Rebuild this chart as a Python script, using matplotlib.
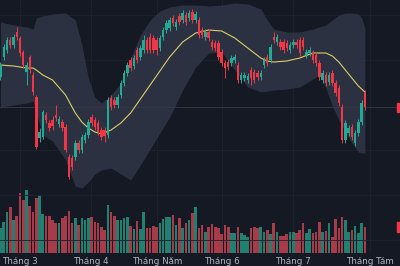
import matplotlib
matplotlib.use('Agg')
import matplotlib.pyplot as plt
import matplotlib.transforms as mtransforms
import numpy as np

# Nến ngày (giá tuỳ ý, không có trục giá trong ảnh)
open_ = [223, 243, 250, 260, 255, 268, 262, 248, 228, 243,
         225, 203, 162, 163, 185, 177, 180, 185, 176, 178,
         173, 143, 142, 143, 157, 150, 160, 165, 183, 180,
         177, 170, 170, 165, 202, 200, 195, 205, 217, 227,
         240, 234, 250, 243, 250, 260, 263, 262, 260, 252,
         263, 270, 272, 282, 273, 284, 280, 285, 282, 288,
         280, 280, 270, 263, 268, 258, 257, 257, 248, 237,
         238, 237, 240, 235, 220, 222, 220, 230, 228, 227,
         223, 235, 243, 240, 263, 258, 258, 258, 257, 250,
         255, 258, 260, 260, 245, 247, 247, 245, 237, 220,
         225, 218, 227, 217, 212, 193, 160, 167, 173, 157,
         167, 178, 207]
close = [235, 253, 260, 255, 263, 263, 247, 235, 235, 230,
         208, 153, 168, 188, 180, 172, 174, 182, 181, 172,
         150, 123, 133, 157, 150, 163, 165, 178, 177, 173,
         168, 163, 164, 200, 193, 195, 203, 217, 227, 235,
         232, 242, 240, 252, 260, 250, 250, 250, 250, 262,
         270, 277, 280, 277, 278, 278, 287, 278, 287, 280,
         286, 265, 265, 268, 262, 253, 252, 243, 237, 232,
         233, 242, 243, 220, 225, 225, 224, 222, 220, 223,
         227, 240, 237, 253, 260, 263, 253, 250, 252, 255,
         258, 255, 247, 253, 248, 250, 240, 237, 223, 227,
         217, 225, 217, 207, 197, 160, 177, 172, 163, 167,
         178, 197, 193]
high = [238, 256, 263, 263, 266, 273, 264, 250, 238, 245,
        228, 205, 172, 190, 188, 180, 184, 195, 184, 181,
        176, 146, 145, 160, 160, 166, 168, 181, 186, 183,
        180, 173, 173, 203, 205, 203, 206, 220, 230, 238,
        243, 245, 253, 255, 265, 263, 267, 265, 263, 265,
        273, 280, 283, 285, 281, 287, 290, 288, 290, 291,
        289, 283, 273, 271, 271, 261, 260, 260, 251, 240,
        241, 245, 246, 238, 228, 228, 227, 233, 231, 230,
        230, 243, 246, 256, 268, 266, 261, 261, 260, 258,
        261, 261, 263, 263, 251, 253, 250, 248, 240, 230,
        228, 228, 230, 220, 215, 196, 180, 175, 176, 170,
        181, 200, 210]
low = [220, 240, 247, 252, 252, 260, 244, 232, 215, 227,
       205, 151, 158, 161, 177, 169, 170, 179, 173, 169,
       148, 121, 130, 140, 147, 147, 157, 162, 174, 170,
       165, 160, 158, 162, 190, 192, 192, 202, 214, 224,
       229, 231, 237, 240, 247, 247, 247, 247, 245, 249,
       260, 267, 269, 274, 270, 275, 277, 275, 279, 277,
       277, 262, 262, 260, 259, 250, 249, 240, 234, 222,
       230, 234, 237, 217, 217, 219, 217, 215, 217, 220,
       220, 232, 234, 237, 257, 255, 250, 247, 249, 247,
       252, 252, 244, 250, 242, 244, 237, 234, 220, 217,
       214, 215, 214, 204, 194, 157, 157, 164, 160, 154,
       164, 175, 190]
volume = [25, 31, 41, 46, 33, 37, 60, 53, 63, 47,
          41, 55, 58, 39, 37, 37, 33, 30, 30, 35,
          37, 42, 30, 35, 28, 35, 33, 35, 36, 31,
          30, 26, 23, 48, 41, 37, 33, 33, 35, 36,
          27, 24, 32, 24, 41, 25, 25, 27, 26, 30,
          34, 36, 36, 38, 28, 35, 25, 30, 33, 40,
          46, 25, 28, 21, 26, 29, 26, 25, 19, 28,
          26, 20, 20, 26, 20, 18, 16, 25, 26, 25,
          26, 21, 23, 19, 30, 21, 17, 17, 19, 21,
          21, 20, 23, 30, 20, 24, 20, 21, 31, 21,
          22, 30, 16, 34, 25, 36, 33, 21, 23, 27,
          20, 30, 26]

# Dải Bollinger (theo chỉ số nến)
band_idx = [0, 4, 8, 10, 11, 13, 16, 20, 23, 25, 27, 29, 31, 34, 37, 40, 43, 46, 49, 52,
            56, 60, 64, 68, 72, 76, 80, 82, 84, 88, 92, 96, 98, 100, 102, 104, 106, 108,
            110, 111, 112]
band_upper = [278, 275, 273, 271, 282, 284, 286, 287, 280, 255, 222, 203, 197, 205, 217,
              242, 265, 280, 289, 293, 295, 295, 294, 295, 297, 296, 291, 280, 271, 268,
              268, 271, 273, 275, 280, 285, 287, 287, 286, 282, 272]
band_mid = [235, 234, 232, 232, 230, 225, 220, 205, 187, 178, 172, 168, 166, 170, 177,
            187, 201, 215, 229, 243, 258, 267, 270, 269, 262, 252, 242, 239, 238, 239,
            242, 247, 247, 247, 244, 238, 230, 222, 214, 211, 208]
band_lower = [193, 195, 197, 199, 188, 165, 159, 140, 114, 112, 118, 126, 130, 132, 126,
              120, 135, 151, 167, 183, 210, 233, 247, 248, 230, 213, 208, 209, 210, 211,
              213, 221, 225, 212, 194, 180, 168, 157, 148, 147, 147]

month_pos = [6, 27.8, 48.1, 68.1, 89.9, 113.5]
month_labels = ['Tháng 3', 'Tháng 4', 'Tháng Năm', 'Tháng 6', 'Tháng 7', 'Tháng Tám']

bg = '#151924'
up_col = '#22ab94'
down_col = '#f23645'
up_vol = '#21806f'
down_vol = '#a63b4a'

o = np.array(open_)
c = np.array(close)
idx = np.arange(len(o))
up = c >= o

fig = plt.figure(figsize=(4, 2.66), dpi=100, facecolor=bg)
ax = fig.add_axes([0, 13 / 266, 1, 253 / 266])
ax.set_facecolor(bg)

# Khối lượng (trục phụ)
axv = ax.twinx()
axv.set_facecolor(bg)
for xp in month_pos:
    axv.axvline(xp, color='#1d2130', lw=0.6, zorder=0)
axv.bar(idx, volume, width=0.8, color=np.where(up, up_vol, down_vol), zorder=1)
axv.set_ylim(0, max(volume) * 4)
axv.axis('off')

ax.set_zorder(axv.get_zorder() + 1)
ax.patch.set_visible(False)

# Lưới ngang mờ
for yp in [60, 105, 150, 240, 285]:
    ax.axhline(yp, color='#1d2130', lw=0.6, zorder=0)

# Bollinger
ax.fill_between(band_idx, band_lower, band_upper, color='#2f3545', alpha=0.88, lw=0, zorder=1)
ax.plot(band_idx, band_mid, color='#dccb6a', lw=0.8, zorder=3)

# Nến
colors = np.where(up, up_col, down_col)
ax.vlines(idx, low, high, colors=colors, lw=0.7, zorder=4)
ax.bar(idx, np.abs(c - o), bottom=np.minimum(o, c), width=0.76, color=colors, zorder=5)

# Đường giá hiện tại
ax.axhline(close[-1], color='#363a45', lw=0.6, zorder=2)

# Nhãn giá / khối lượng bị cắt ở mép phải
tr = mtransforms.blended_transform_factory(ax.transAxes, ax.transData)
ax.add_patch(plt.Rectangle((0.992, close[-1] - 4.5), 0.03, 9, transform=tr,
                           color=down_col, clip_on=False, zorder=6))
trv = mtransforms.blended_transform_factory(axv.transAxes, axv.transData)
axv.add_patch(plt.Rectangle((0.992, volume[-1] - 5), 0.03, 10, transform=trv,
                            color=down_col, clip_on=False, zorder=6))

ax.set_xlim(-0.15, 122.8)
ax.set_ylim(47, 300)
ax.set_yticks([])
ax.set_xticks(month_pos)
ax.set_xticklabels(month_labels, fontsize=6.3, color='#b2b5be')
ax.tick_params(axis='x', length=0, pad=3)
for s in ax.spines.values():
    s.set_visible(False)

fig.savefig('out.png', dpi=100, facecolor=bg)
